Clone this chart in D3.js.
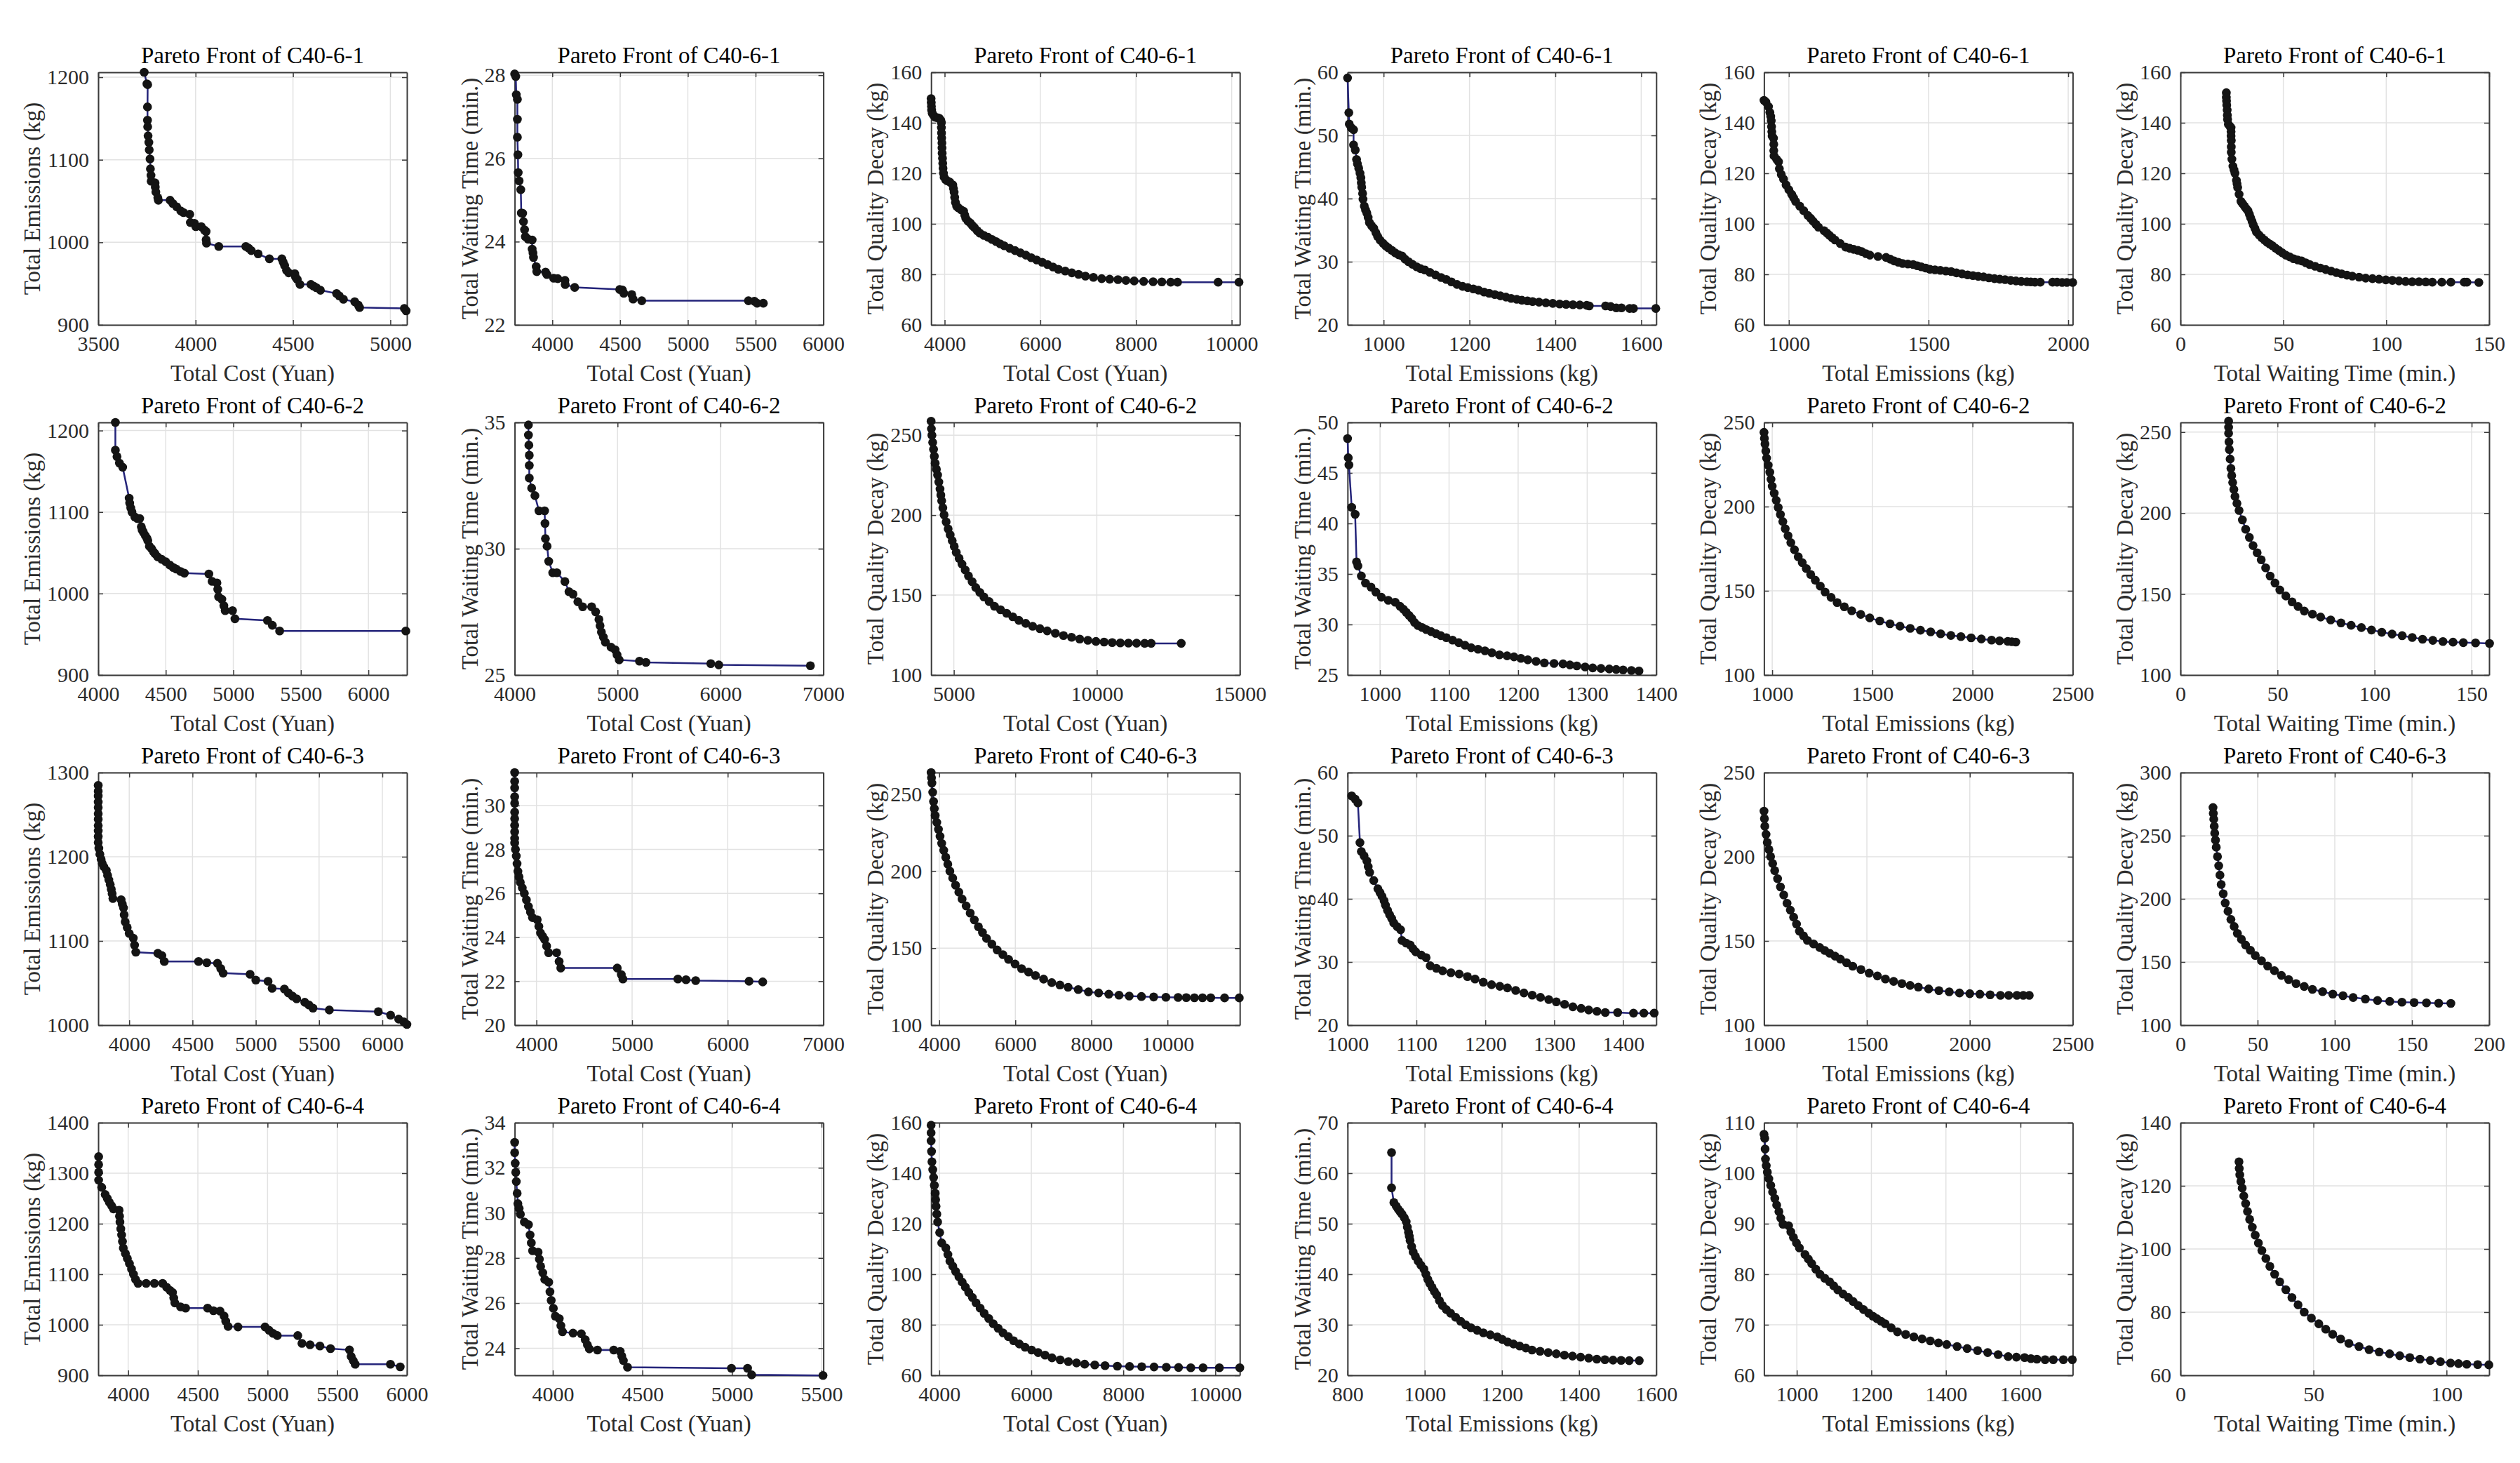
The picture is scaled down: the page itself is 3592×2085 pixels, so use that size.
<!DOCTYPE html>
<html><head><meta charset="utf-8">
<script src="https://cdn.jsdelivr.net/npm/d3@7"></script>
<style>body{margin:0;background:#fff}svg{display:block}</style></head>
<body><svg id="chart" width="3592" height="2085"></svg>
<script>
// ---------- labels ----------
const instances = ["C40-6-1", "C40-6-2", "C40-6-3", "C40-6-4"];
const xLabels = ["Total Cost (Yuan)", "Total Cost (Yuan)", "Total Cost (Yuan)", "Total Emissions (kg)", "Total Emissions (kg)", "Total Waiting Time (min.)"];
const yLabels = ["Total Emissions (kg)", "Total Waiting Time (min.)", "Total Quality Decay (kg)", "Total Waiting Time (min.)", "Total Quality Decay (kg)", "Total Quality Decay (kg)"];

// ---------- axis ranges & ticks (per row, per column) ----------
const xDomR1 = [[3500,5085],[3722,6000],[3717,10170],[916,1635],[911,2016],[0,150]];
const yDomR1 = [[900,1206],[22,28.07],[60,160],[20,60],[60,160],[60,160]];
const xTickR1 = [[3500,4000,4500,5000],[4000,4500,5000,5500,6000],[4000,6000,8000,10000],[1000,1200,1400,1600],[1000,1500,2000],[0,50,100,150]];
const yTickR1 = [[900,1000,1100,1200],[22,24,26,28],[60,80,100,120,140,160],[20,30,40,50,60],[60,80,100,120,140,160],[60,80,100,120,140,160]];

const xDomR2 = [[4000,6285],[4000,7000],[4205,15000],[953,1400],[959,2500],[0,159]];
const yDomR2 = [[900,1210],[25,35],[100,258],[25,50],[100,250],[100,256]];
const xTickR2 = [[4000,4500,5000,5500,6000],[4000,5000,6000,7000],[5000,10000,15000],[1000,1100,1200,1300,1400],[1000,1500,2000,2500],[0,50,100,150]];
const yTickR2 = [[900,1000,1100,1200],[25,30,35],[100,150,200,250],[25,30,35,40,45,50],[100,150,200,250],[100,150,200,250]];

const xDomR3 = [[3755,6194],[3772,7000],[3786,11900],[1000,1448],[1000,2500],[0,200]];
const yDomR3 = [[1000,1300],[20,31.5],[100,264],[20,60],[100,250],[100,300]];
const xTickR3 = [[4000,4500,5000,5500,6000],[4000,5000,6000,7000],[4000,6000,8000,10000],[1000,1100,1200,1300,1400],[1000,1500,2000,2500],[0,50,100,150,200]];
const yTickR3 = [[1000,1100,1200,1300],[20,22,24,26,28,30],[100,150,200,250],[20,30,40,50,60],[100,150,200,250],[100,150,200,250,300]];

const xDomR4 = [[3785,6000],[3787,5510],[3822,10532],[800,1600],[912,1740],[0,116]];
const yDomR4 = [[900,1400],[22.8,34],[60,160],[20,70],[60,110],[60,140]];
const xTickR4 = [[4000,4500,5000,5500,6000],[4000,4500,5000,5500],[4000,6000,8000,10000],[800,1000,1200,1400,1600],[1000,1200,1400,1600],[0,50,100]];
const yTickR4 = [[900,1000,1100,1200,1300,1400],[24,26,28,30,32,34],[60,80,100,120,140,160],[20,30,40,50,60,70],[60,70,80,90,100,110],[60,80,100,120,140]];

// ---------- Pareto fronts, C40-6-1 ----------
const ce1 = [[3736,1206],[3750,1192],[3754,1191],[3753,1164],[3753,1148],[3754,1140],[3756,1129],[3760,1121],[3762,1112],[3766,1101],[3768,1089],[3771,1081],[3772,1074],[3792,1072],[3793,1067],[3796,1061],[3806,1054],[3809,1051],[3869,1051],[3883,1047],[3903,1043],[3924,1038],[3938,1036],[3970,1034],[3973,1024],[3994,1023],[4001,1019],[4029,1019],[4045,1015],[4054,1013],[4054,1003],[4056,999],[4119,995],[4258,995],[4272,993],[4286,990],[4321,986],[4379,980],[4443,980],[4450,976],[4457,972],[4467,966],[4478,963],[4509,962],[4513,958],[4522,955],[4536,949],[4592,949],[4606,947],[4620,945],[4641,942],[4724,938],[4738,935],[4759,931],[4817,928],[4835,924],[4842,921],[5072,920],[5081,917]];
const cw1 = [[3722,28.03],[3730,27.97],[3734,27.53],[3742,27.42],[3742,26.94],[3742,26.51],[3746,26.09],[3748,25.66],[3755,25.46],[3767,25.25],[3771,24.69],[3781,24.68],[3787,24.48],[3795,24.29],[3801,24.12],[3821,24.06],[3851,24.04],[3851,23.82],[3857,23.73],[3861,23.62],[3881,23.40],[3885,23.28],[3950,23.27],[3960,23.21],[4010,23.12],[4040,23.11],[4093,23.07],[4095,22.97],[4165,22.90],[4497,22.85],[4517,22.84],[4527,22.76],[4586,22.73],[4596,22.62],[4660,22.58],[5447,22.58],[5491,22.57],[5511,22.52],[5557,22.52]];
const cq1 = [[3717,149.6],[3720,148],[3724,146.5],[3728,145],[3740,143.8],[3762,143.1],[3802,142.2],[3850,142],[3887,141.8],[3920,141],[3932,140],[3932,138.1],[3935,136],[3938,134],[3943,132],[3945,130],[3948,128],[3955,126],[3960,124],[3966,122],[3975,120],[3989,118.5],[4020,117.5],[4057,117],[4110,116.5],[4170,115.4],[4185,114],[4198,112.5],[4210,110.5],[4226,108.5],[4250,107],[4283,106.4],[4340,105.6],[4396,105],[4420,103.5],[4441,102.2],[4490,101],[4538,100.3],[4580,99.3],[4623,98.5],[4680,97.3],[4736,96.3],[4820,95.4],[4906,94.7],[4990,93.8],[5075,93],[5160,92.1],[5245,91.3],[5360,90.3],[5472,89.4],[5585,88.5],[5698,87.6],[5810,86.6],[5924,85.7],[6040,84.8],[6151,83.9],[6265,82.9],[6377,82],[6520,81.3],[6660,80.6],[6800,80],[6943,79.3],[7110,78.8],[7283,78.3],[7450,78.1],[7623,77.9],[7790,77.6],[7962,77.4],[8160,77.2],[8358,77.1],[8540,77],[8726,76.9],[8868,76.9],[9717,76.9],[10153,76.9]];
const ew1 = [[916,59.1],[919,53.6],[920,51.8],[925,51.2],[930,50.9],[930,48.5],[934,47.7],[937,46.2],[939,45.5],[942,44.8],[945,44],[947,43.3],[948,42.5],[949,41.8],[951,40.8],[952,39.9],[955,38.8],[958,38.2],[961,37.7],[964,37],[967,36.2],[972,35.7],[977,35.3],[982,34.6],[986,34],[992,33.4],[999,32.9],[1005,32.5],[1011,32.2],[1019,31.8],[1027,31.4],[1035,31.1],[1043,30.9],[1050,30.4],[1058,30],[1067,29.6],[1077,29.2],[1086,28.9],[1096,28.7],[1108,28.3],[1121,27.9],[1134,27.5],[1146,27.2],[1158,26.8],[1171,26.4],[1184,26.1],[1196,25.9],[1209,25.7],[1221,25.5],[1234,25.2],[1246,25],[1259,24.8],[1272,24.6],[1285,24.4],[1297,24.2],[1310,24.05],[1322,23.9],[1335,23.8],[1347,23.7],[1362,23.6],[1378,23.5],[1394,23.4],[1410,23.3],[1425,23.25],[1441,23.2],[1457,23.15],[1473,23.1],[1479,23],[1517,23],[1529,22.9],[1542,22.7],[1554,22.7],[1573,22.6],[1582,22.6],[1634,22.6]];
const eq1 = [[911,148.9],[918,148.2],[927,146.4],[932,144.1],[935,142.5],[937,140.8],[938,138.5],[939,136.5],[940,134.8],[945,133.9],[946,131.5],[946,129],[947,126.9],[956,125.6],[963,124.6],[966,121.8],[973,119.5],[981,117.7],[990,115.4],[1000,113.5],[1010,111.7],[1017,110.3],[1024,108.9],[1039,107],[1053,105.2],[1068,103.3],[1078,102.2],[1087,101],[1097,99.8],[1106,98.7],[1126,97.3],[1136,96.4],[1145,95.5],[1155,94.5],[1165,93.6],[1184,92.2],[1203,90.8],[1218,90.3],[1232,89.9],[1247,89.5],[1261,89],[1276,88.2],[1290,87.6],[1319,87.1],[1348,86.7],[1363,86],[1377,85.3],[1392,84.8],[1407,84.3],[1426,84.1],[1445,83.9],[1460,83.4],[1474,83],[1490,82.5],[1505,82],[1523,81.8],[1542,81.6],[1562,81.3],[1581,81.1],[1600,80.6],[1620,80.2],[1640,79.8],[1659,79.5],[1678,79.2],[1697,79],[1716,78.6],[1736,78.3],[1755,78.1],[1774,77.9],[1794,77.6],[1813,77.4],[1832,77.2],[1852,77.1],[1866,77],[1881,76.9],[1900,76.9],[1944,76.9],[1960,76.9],[1978,76.8],[1995,76.8],[2016,76.8]];
const wq1 = [[22.3,151.9],[22.3,150],[22.4,148.7],[22.5,147],[22.7,145],[22.8,143],[22.9,141.3],[23.3,139.4],[24,138.6],[24.6,138.1],[24.6,136.5],[24.6,134.8],[24.7,133],[24.7,130.5],[24.7,128.3],[25,125.6],[25.5,122.8],[26,121.4],[26.5,120],[27.2,117.2],[27.5,115.8],[27.8,114.4],[28.5,111.7],[29.4,108.9],[30.2,108],[31.1,107],[32,106],[32.8,105.2],[33.5,103.8],[34.1,102.4],[34.8,101],[35.4,99.6],[36.2,98.2],[36.9,96.8],[38.2,95.6],[39.5,94.5],[40.8,93.6],[42.1,92.7],[43.4,92],[44.7,91.3],[46.3,90.3],[47.9,89.4],[49.5,88.5],[51.2,87.6],[53.1,86.9],[55,86.2],[57,85.7],[58.9,85.3],[60.9,84.6],[62.8,83.9],[65.4,83.2],[68,82.5],[70.6,81.9],[73.2,81.3],[75.8,80.7],[78.3,80.2],[80.9,79.7],[83.5,79.3],[86.8,78.9],[90,78.5],[93.3,78.3],[96.5,78.1],[99.8,77.8],[103,77.6],[106.2,77.4],[109.4,77.2],[112.6,77.1],[115.9,77.1],[119.2,77],[122.4,76.9],[127,76.9],[131.4,76.9],[137.9,76.9],[139.2,76.9],[145,76.8]];

// ---------- C40-6-2 ----------
const ce2 = [[4127,1210],[4127,1176],[4139,1168],[4157,1160],[4181,1155],[4229,1117],[4233,1111],[4241,1105],[4250,1100],[4271,1094],[4290,1092],[4307,1092],[4319,1082],[4325,1078],[4335,1075],[4349,1071],[4360,1068],[4367,1065],[4379,1058],[4395,1055],[4410,1051],[4420,1049],[4440,1045],[4470,1042],[4500,1039],[4530,1035],[4555,1032],[4578,1030],[4610,1027],[4638,1025],[4819,1024],[4843,1015],[4879,1013],[4885,1005],[4891,996],[4915,993],[4930,985],[4940,979],[4994,979],[5012,969],[5253,967],[5289,961],[5343,954],[6277,954]];
const cw2 = [[4134,34.9],[4134,34.5],[4138,34.1],[4142,33.7],[4142,33.3],[4142,32.8],[4165,32.4],[4197,32.1],[4236,31.5],[4291,31.5],[4295,31],[4299,30.4],[4315,30.1],[4331,29.5],[4370,29.05],[4410,29.05],[4488,28.7],[4528,28.3],[4567,28.2],[4614,27.9],[4661,27.7],[4748,27.7],[4787,27.5],[4819,27.2],[4830,26.95],[4843,26.7],[4862,26.5],[4882,26.3],[4937,26.1],[4976,26],[4995,25.8],[5016,25.6],[5213,25.55],[5276,25.5],[5906,25.45],[5984,25.4],[6874,25.37]];
const cq2 = [[4205,258.8],[4215,254],[4233,250],[4260,245.5],[4290,241.2],[4318,236.8],[4347,232.4],[4390,228.7],[4432,225.1],[4475,220.7],[4517,216.3],[4545,212.6],[4574,209],[4616,204.6],[4659,200.2],[4730,195.8],[4801,191.4],[4872,187.7],[4943,184],[5014,180.4],[5085,176.7],[5185,173],[5284,169.4],[5398,165.7],[5511,162],[5639,158.4],[5767,154.7],[5909,151.7],[6051,148.8],[6236,145.9],[6420,143],[6633,140.8],[6846,138.6],[7059,136.4],[7272,134.2],[7514,132.3],[7755,130.5],[8010,129],[8266,127.6],[8550,126.1],[8834,124.7],[9118,123.6],[9402,122.5],[9686,121.7],[9970,121],[10254,120.6],[10538,120.3],[10822,120.1],[11106,120],[11390,119.9],[11674,119.8],[11900,119.8],[12952,119.8]];
const ew2 = [[953,48.4],[954,46.5],[955,45.8],[959,41.6],[964,40.9],[966,36.2],[968,35.8],[973,34.8],[979,34.1],[987,33.7],[994,33.2],[1002,32.7],[1012,32.4],[1022,32.2],[1029,31.8],[1034,31.5],[1038,31.2],[1042,30.9],[1046,30.6],[1050,30.2],[1055,29.9],[1061,29.7],[1067,29.5],[1074,29.3],[1081,29.1],[1088,28.9],[1096,28.7],[1105,28.45],[1114,28.2],[1123,27.95],[1132,27.7],[1142,27.55],[1152,27.4],[1162,27.2],[1173,27],[1184,26.9],[1194,26.8],[1204,26.65],[1214,26.5],[1226,26.35],[1238,26.2],[1252,26.15],[1265,26.1],[1275,26],[1285,25.9],[1297,25.8],[1308,25.7],[1320,25.65],[1332,25.6],[1342,25.55],[1352,25.5],[1364,25.45],[1375,25.4]];
const eq2 = [[959,244.1],[961,240.5],[964,237.2],[968,233],[972,228.8],[980,224.6],[988,220.4],[994,216.2],[1000,212.1],[1010,207.9],[1020,203.7],[1030,199.5],[1041,195.3],[1053,191.1],[1065,186.9],[1079,182.7],[1093,178.6],[1111,174.4],[1130,170.2],[1150,166.7],[1170,163.2],[1192,159.7],[1215,156.3],[1240,152.8],[1264,149.3],[1294,146.1],[1324,143],[1360,140.5],[1397,138.1],[1442,136],[1487,133.9],[1537,132.1],[1588,130.4],[1638,129],[1689,127.7],[1740,126.6],[1791,125.6],[1841,124.5],[1892,123.5],[1942,122.8],[1993,122.1],[2044,121.4],[2095,120.7],[2135,120.3],[2176,120],[2196,119.8],[2216,119.6]];
const wq2 = [[24.8,256.8],[24.8,253],[24.8,249.3],[25,244],[25.2,239.2],[25.6,233.4],[26,227.6],[26.4,223.2],[26.9,218.9],[27.5,214.6],[28.1,210.3],[29.1,206],[30.2,201.6],[31.9,195.8],[33.6,190],[35.5,185],[37.4,179.9],[39.5,175.5],[41.6,171.2],[43.9,166.2],[46.2,161.1],[48.7,156.8],[51.2,152.5],[54.3,148.8],[57.5,145.2],[60.6,142.3],[63.8,139.5],[68,137.6],[72.2,135.8],[77.4,134],[82.7,132.2],[87.9,130.7],[93.2,129.3],[98.4,127.8],[103.7,126.4],[109,125.3],[114.2,124.3],[119.4,123.2],[124.7,122.1],[130,121.4],[135.2,120.7],[140.4,120.3],[145.7,120],[152,119.8],[159.2,119.5]];

// ---------- C40-6-3 ----------
const ce3 = [[3755,1284.8],[3755,1278],[3755,1272.3],[3755,1265],[3755,1258.5],[3755,1251],[3755,1244.6],[3755,1237],[3755,1230.8],[3755,1224],[3755,1216.9],[3760,1210],[3768,1203],[3778,1197],[3787,1192],[3800,1188],[3819,1183.7],[3829,1178],[3839,1172.6],[3850,1167],[3858,1161.5],[3865,1156],[3871,1150.4],[3936,1149],[3945,1144],[3955,1139.3],[3960,1131],[3968,1122.7],[3984,1116],[4000,1108.9],[4032,1103.3],[4042,1095],[4052,1086.7],[4226,1085.3],[4258,1082.6],[4277,1075.6],[4548,1075.6],[4613,1074.2],[4697,1073.4],[4723,1067.3],[4742,1061.8],[4955,1060.4],[5000,1053.5],[5097,1052.1],[5129,1043.8],[5226,1042.9],[5258,1038.2],[5290,1034.5],[5323,1031.3],[5387,1027.2],[5420,1024],[5452,1020.2],[5581,1018],[5968,1016.1],[6065,1011.9],[6129,1007.2],[6170,1004],[6194,1000.8]];
const cw3 = [[3772,31.5],[3772,31.1],[3772,30.8],[3772,30.4],[3772,30.1],[3772,29.7],[3772,29.4],[3772,29.1],[3772,28.8],[3772,28.5],[3772,28.3],[3780,28],[3789,27.7],[3797,27.35],[3806,27],[3818,26.75],[3831,26.5],[3852,26.25],[3873,26],[3895,25.7],[3916,25.4],[3937,25.15],[3958,24.9],[4008,24.8],[4025,24.5],[4042,24.2],[4064,24.05],[4085,23.9],[4106,23.6],[4127,23.3],[4211,23.3],[4237,22.9],[4254,22.6],[4845,22.6],[4887,22.3],[4904,22.1],[5479,22.1],[5564,22.07],[5665,22.03],[6223,22.0],[6366,21.97]];
const cq3 = [[3786,264],[3796,260.6],[3807,257.2],[3828,251.2],[3850,245.2],[3871,240.6],[3893,236.1],[3936,231.6],[3979,227.1],[4021,222.6],[4064,218],[4118,213.5],[4171,209],[4225,204.5],[4279,200],[4354,195.5],[4429,190.9],[4515,186.4],[4600,181.9],[4707,177.4],[4814,172.8],[4921,168.3],[5029,163.9],[5136,160.1],[5243,156.3],[5383,152.6],[5522,148.8],[5672,145.8],[5822,142.7],[5993,139.7],[6164,136.7],[6347,134.5],[6529,132.2],[6743,129.9],[6957,127.6],[7172,126.1],[7386,124.6],[7654,123.1],[7922,121.6],[8190,120.9],[8457,120.1],[8725,119.5],[8993,118.9],[9315,118.6],[9636,118.3],[9958,118.1],[10279,118],[10493,117.9],[10707,117.8],[10920,117.8],[11136,117.8],[11500,117.7],[11886,117.7]];
const ew3 = [[1006,56.3],[1011,55.8],[1015,55.2],[1018,48.9],[1020,47.5],[1024,46.8],[1028,46],[1030,45.1],[1032,44.2],[1038,42.9],[1044,41.6],[1047,41],[1050,40.4],[1053,39.7],[1055,39],[1058,38.2],[1061,37.5],[1064,36.9],[1067,36.2],[1072,35.6],[1077,35.1],[1079,33.4],[1085,33],[1091,32.7],[1095,32.1],[1099,31.6],[1107,31.1],[1114,30.7],[1120,29.4],[1129,29],[1138,28.6],[1150,28.3],[1162,28.1],[1174,27.7],[1185,27.3],[1197,26.8],[1209,26.4],[1221,26.15],[1232,25.9],[1244,25.5],[1256,25.1],[1268,24.75],[1280,24.4],[1292,24.05],[1303,23.7],[1315,23.3],[1327,22.9],[1339,22.65],[1350,22.4],[1362,22.2],[1374,22],[1392,22],[1415,21.9],[1430,21.9],[1445,21.9]];
const eq3 = [[1000,227.1],[1002,222.6],[1004,218.1],[1010,213.3],[1016,208.5],[1024,204.3],[1032,200.1],[1042,196],[1052,191.8],[1066,187],[1080,182.1],[1096,177.3],[1112,172.4],[1128,168.3],[1144,164.1],[1158,160],[1172,155.8],[1192,153],[1211,150.3],[1241,148.2],[1271,146.1],[1295,144.4],[1319,142.7],[1345,141],[1371,139.2],[1401,137.1],[1431,135],[1471,133],[1511,130.9],[1551,129.2],[1590,127.4],[1630,126],[1670,124.7],[1710,123.6],[1750,122.6],[1800,121.5],[1850,120.5],[1900,119.8],[1950,119.1],[2000,118.7],[2049,118.4],[2099,118],[2149,117.7],[2189,117.7],[2229,117.7],[2260,117.7],[2289,117.7]];
const wq3 = [[21.1,272.3],[21.3,267.7],[21.6,263.1],[21.9,257.5],[22.2,252],[22.7,246.5],[23.2,240.9],[24,233.5],[24.8,226.2],[25.6,218.8],[26.4,211.4],[27.7,204],[29,196.7],[30.8,190.2],[32.7,183.7],[34.8,178.1],[36.9,172.6],[39.5,168],[42.2,163.4],[45.3,159.3],[48.5,155.1],[52.5,151],[56.5,146.8],[60.9,143.1],[65.4,139.4],[70.1,136.1],[74.9,132.9],[80.2,130.6],[85.5,128.3],[92.1,126.5],[98.7,124.6],[105.3,123.3],[111.9,121.9],[119.8,120.7],[127.7,119.5],[135.6,118.8],[143.5,118.2],[151.4,117.9],[159.4,117.6],[167.3,117.4],[175.2,117.2]];

// ---------- C40-6-4 ----------
const ce4 = [[3788,1332.8],[3788,1317],[3788,1301.8],[3788,1286.3],[3810,1272],[3835,1257.8],[3850,1250],[3865,1242.3],[3880,1236],[3894,1229.4],[3935,1226.8],[3938,1215],[3941,1203.5],[3947,1190],[3953,1177.7],[3959,1165],[3965,1151.8],[3980,1141],[3994,1131.2],[4009,1121],[4024,1110.5],[4038,1100],[4053,1089.8],[4071,1082],[4129,1082],[4188,1082],[4247,1082],[4276,1074.3],[4300,1068],[4318,1063.9],[4327,1053],[4335,1043.2],[4376,1035.5],[4412,1032.9],[4570,1032.9],[4612,1027.8],[4659,1027],[4688,1017.4],[4700,1007],[4717,996.7],[4788,995.7],[4982,995.7],[5011,989],[5040,983],[5070,978.6],[5217,978.6],[5247,963.1],[5305,960.5],[5376,958],[5452,952.8],[5588,950.2],[5600,937.3],[5615,929],[5629,921.8],[5882,921.8],[5952,916.6]];
const cw4 = [[3787,33.13],[3787,32.67],[3790,32.2],[3793,31.8],[3796,31.39],[3801,30.87],[3805,30.41],[3812,30.2],[3819,29.94],[3841,29.6],[3864,29.48],[3873,29.02],[3880,28.67],[3887,28.32],[3918,28.26],[3925,27.95],[3932,27.63],[3944,27.34],[3955,27.05],[3977,26.93],[3984,26.5],[3991,26.12],[4003,25.77],[4014,25.42],[4036,25.31],[4045,25],[4054,24.73],[4113,24.67],[4159,24.64],[4181,24.38],[4193,24.15],[4204,23.97],[4249,23.92],[4340,23.92],[4376,23.86],[4385,23.65],[4394,23.45],[4417,23.16],[4997,23.11],[5087,23.11],[5110,22.82],[5508,22.79]];
const cq4 = [[3822,159],[3822,156],[3822,152.8],[3831,148.6],[3840,144.5],[3858,141.4],[3876,138.3],[3893,135.2],[3911,132.1],[3920,129.5],[3929,126.9],[3946,123.8],[3964,120.7],[4008,116.5],[4053,112.4],[4142,110.4],[4187,107.8],[4231,105.2],[4293,103.2],[4355,101.1],[4426,99],[4497,96.9],[4568,94.9],[4639,92.8],[4719,90.8],[4799,88.7],[4888,86.6],[4976,84.5],[5074,82.5],[5172,80.4],[5279,78.6],[5385,76.8],[5500,75.3],[5615,73.7],[5740,72.4],[5864,71.1],[6006,70],[6148,69],[6299,68],[6450,66.9],[6628,66.1],[6805,65.4],[6983,64.9],[7160,64.4],[7380,64.1],[7603,63.8],[7870,63.6],[8136,63.5],[8400,63.4],[8668,63.3],[8935,63.2],[9201,63.1],[9467,63],[9733,63],[10088,63],[10532,63]];
const ew4 = [[914,64.1],[914,57.1],[920,54.2],[926,53.5],[931,52.9],[936,52.4],[941,51.9],[947,51.2],[952,50.4],[955,49.3],[958,48.3],[960,47.5],[962,46.7],[966,45.5],[970,44.4],[976,43.5],[983,42.6],[990,41.8],[998,41],[1003,40],[1008,39],[1013,38.2],[1019,37.4],[1025,36.6],[1031,35.9],[1038,34.8],[1046,33.8],[1056,33],[1067,32.3],[1080,31.5],[1093,30.7],[1106,30],[1120,29.4],[1136,28.9],[1152,28.4],[1170,28],[1188,27.6],[1201,27.1],[1215,26.6],[1230,26.2],[1246,25.8],[1262,25.4],[1278,25],[1299,24.75],[1320,24.5],[1341,24.25],[1362,24],[1383,23.8],[1404,23.6],[1425,23.4],[1446,23.2],[1467,23.1],[1488,23],[1509,22.95],[1530,22.9],[1556,22.9]];
const eq4 = [[912,107.7],[914,106.9],[915,104.8],[916,102.8],[918,101.5],[921,100.2],[925,98.9],[930,97.6],[935,96.3],[941,95],[946,93.7],[952,92.4],[957,91.1],[963,89.9],[978,89.6],[984,88.4],[991,87.3],[999,86.2],[1007,85.2],[1022,83.9],[1031,83],[1040,82.1],[1051,81],[1062,80],[1075,79.2],[1088,78.5],[1099,77.7],[1110,76.9],[1124,76.1],[1138,75.4],[1151,74.6],[1165,73.8],[1179,73],[1193,72.3],[1204,71.7],[1215,71.2],[1226,70.7],[1237,70.2],[1253,69.4],[1270,68.6],[1292,68.1],[1314,67.6],[1336,67.2],[1358,66.8],[1380,66.4],[1402,66.1],[1430,65.7],[1457,65.3],[1485,64.9],[1512,64.5],[1540,64.1],[1567,63.7],[1589,63.6],[1611,63.5],[1628,63.3],[1644,63.2],[1666,63.1],[1688,63.1],[1715,63.1],[1739,63.1]];
const wq4 = [[22,127.6],[22.1,125.5],[22.3,123.5],[22.7,121.4],[23.2,119.3],[23.8,116.8],[24.5,114.4],[25.2,111.9],[26,109.4],[27,106.9],[28.1,104.4],[29.3,101.9],[30.6,99.5],[32.1,97],[33.6,94.5],[35.4,92],[37.3,89.6],[39.6,87.1],[41.9,84.6],[44.2,82.3],[46.5,80],[49.2,78.1],[52,76.3],[54.6,74.6],[57.2,73],[60.2,71.5],[63.3,70.1],[67.1,69.1],[70.9,68.1],[74.7,67.4],[78.6,66.8],[82.4,66.2],[86.2,65.6],[90,65.1],[93.9,64.7],[97.7,64.3],[101.5,63.9],[104.5,63.7],[107.6,63.5],[111.7,63.4],[115.9,63.3]];

// ---------- assembly ----------
const rows = [
  {data:[ce1,cw1,cq1,ew1,eq1,wq1], xd:xDomR1, yd:yDomR1, xt:xTickR1, yt:yTickR1},
  {data:[ce2,cw2,cq2,ew2,eq2,wq2], xd:xDomR2, yd:yDomR2, xt:xTickR2, yt:yTickR2},
  {data:[ce3,cw3,cq3,ew3,eq3,wq3], xd:xDomR3, yd:yDomR3, xt:xTickR3, yt:yTickR3},
  {data:[ce4,cw4,cq4,ew4,eq4,wq4], xd:xDomR4, yd:yDomR4, xt:xTickR4, yt:yTickR4}
];

const FONT = "'Liberation Serif','Times New Roman',Times,serif";
const svg = d3.select("#chart").attr("font-family", FONT);
svg.append("rect").attr("width",3592).attr("height",2085).attr("fill","#fff");

const W = 440, H = 360, X0 = 140, DX = 593.6, Y0 = 103, DY = 499;
const TICK_FONT = 30, LABEL_FONT = 33;
const boxColor = "#3a3a3a", textColor = "#2b2b2b", gridColor = "#e2e2e2";
const fmt = d => String(d);

rows.forEach((row, r) => {
  row.data.forEach((pts, c) => {
    const g = svg.append("g").attr("transform", `translate(${X0 + c*DX},${Y0 + r*DY})`);
    const x = d3.scaleLinear().domain(row.xd[c]).range([0, W]);
    const y = d3.scaleLinear().domain(row.yd[c]).range([H, 0]);
    const xt = row.xt[c], yt = row.yt[c];

    // grid
    g.append("g").selectAll("line").data(xt).join("line")
      .attr("x1", d => x(d)).attr("x2", d => x(d)).attr("y1", 0).attr("y2", H)
      .attr("stroke", gridColor).attr("stroke-width", 1.5);
    g.append("g").selectAll("line").data(yt).join("line")
      .attr("y1", d => y(d)).attr("y2", d => y(d)).attr("x1", 0).attr("x2", W)
      .attr("stroke", gridColor).attr("stroke-width", 1.5);

    // axes
    const axB = g.append("g").attr("transform", `translate(0,${H})`)
      .call(d3.axisBottom(x).tickValues(xt).tickSizeInner(-7).tickSizeOuter(0).tickPadding(16).tickFormat(fmt));
    const axL = g.append("g")
      .call(d3.axisLeft(y).tickValues(yt).tickSizeInner(-7).tickSizeOuter(0).tickPadding(13).tickFormat(fmt));
    const axT = g.append("g")
      .call(d3.axisTop(x).tickValues(xt).tickSizeInner(-7).tickSizeOuter(0).tickFormat(""));
    const axR = g.append("g").attr("transform", `translate(${W},0)`)
      .call(d3.axisRight(y).tickValues(yt).tickSizeInner(-7).tickSizeOuter(0).tickFormat(""));
    [axB, axL, axT, axR].forEach(a => {
      a.attr("font-family", FONT).attr("font-size", TICK_FONT);
      a.selectAll("path.domain").attr("stroke", boxColor).attr("stroke-width", 2);
      a.selectAll(".tick line").attr("stroke", boxColor).attr("stroke-width", 1.5);
      a.selectAll(".tick text").attr("fill", textColor).attr("font-family", FONT);
    });

    // series: connecting line + markers
    const line = d3.line().x(d => x(d[0])).y(d => y(d[1]));
    g.append("path").datum(pts).attr("d", line)
      .attr("fill", "none").attr("stroke", "#24247a").attr("stroke-width", 2.5);
    g.append("g").selectAll("circle").data(pts).join("circle")
      .attr("cx", d => x(d[0])).attr("cy", d => y(d[1])).attr("r", 6.3)
      .attr("fill", "#141414");

    // title
    g.append("text").attr("x", W/2).attr("y", -13).attr("text-anchor", "middle")
      .attr("font-family", FONT).attr("font-size", LABEL_FONT).attr("fill", "#000")
      .text("Pareto Front of " + instances[r]);
    // x label
    g.append("text").attr("x", W/2).attr("y", H + 80).attr("text-anchor", "middle")
      .attr("font-family", FONT).attr("font-size", LABEL_FONT).attr("fill", textColor)
      .text(xLabels[c]);
    // y label, offset by widest tick label
    let maxW = 0;
    axL.selectAll(".tick text").each(function(){ maxW = Math.max(maxW, this.getComputedTextLength()); });
    const cx = -(maxW + 34);
    g.append("text").attr("transform", `translate(${cx + 11},${H/2}) rotate(-90)`)
      .attr("text-anchor", "middle").attr("font-family", FONT).attr("font-size", LABEL_FONT)
      .attr("fill", textColor).text(yLabels[c]);
  });
});
</script>
</body></html>
